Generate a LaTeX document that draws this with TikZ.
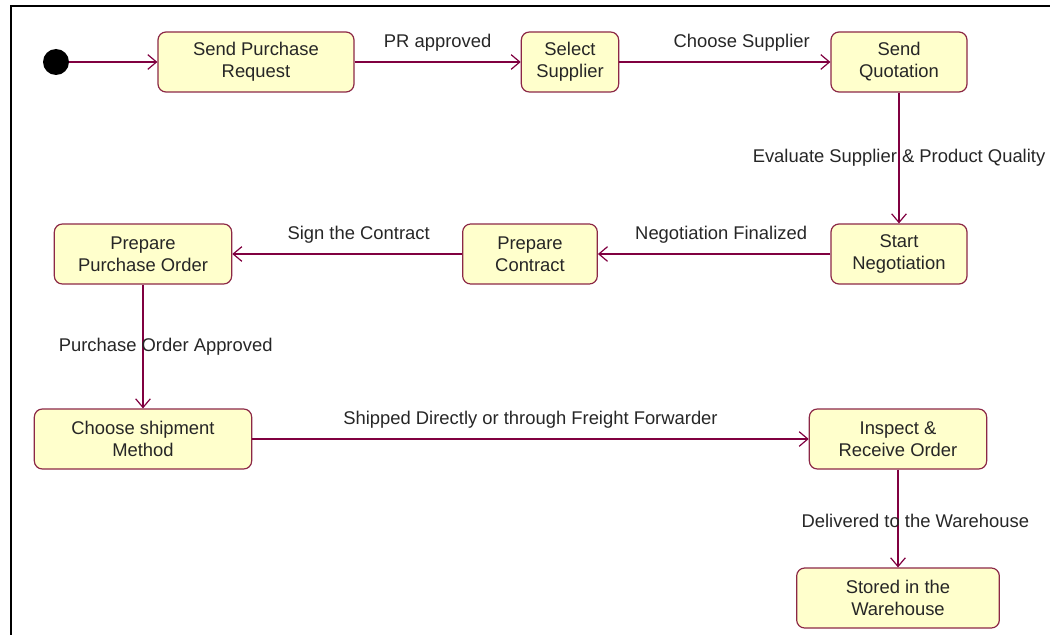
\documentclass[tikz,border=0pt]{standalone}
\usepackage{fontspec}
\setmainfont{Liberation Sans}
\definecolor{flowline}{RGB}{128, 0, 64}
\definecolor{statefill}{RGB}{255, 255, 204}
\definecolor{stateedge}{RGB}{140, 40, 70}
\usetikzlibrary{arrows.meta}

\begin{document}
\begin{tikzpicture}[x=0.75pt, y=-0.75pt,
  state/.style={draw=stateedge, fill=statefill, rounded corners=6pt, align=center, line width=0.9pt,
    minimum height=45pt, inner sep=2pt, font=\fontsize{13.8}{16.5}\selectfont, text=black!85},
  trans/.style={draw=flowline, line width=0.9pt, -{Straight Barb[length=6.5pt, width=11pt]}},
  lbl/.style={font=\fontsize{13.8}{16}\selectfont, text=black!85}]
  \useasboundingbox (0,0) rectangle (1050,635);
  \draw[line width=1.5pt] (11,635) |- (1050,6.5);

  % states
  \node[circle, fill=black, minimum size=19.5pt, inner sep=0pt] (init) at (56,62) {};
  \node[state, minimum width=147pt] (spr) at (256,62) {Send Purchase\\Request};
  \node[state, minimum width=73pt] (ss) at (570,62) {Select\\Supplier};
  \node[state, minimum width=102pt] (sq) at (899,62) {Send\\Quotation};
  \node[state, minimum width=102pt] (sn) at (899,254) {Start\\Negotiation};
  \node[state, minimum width=101pt] (pc) at (530,254) {Prepare\\Contract};
  \node[state, minimum width=133pt] (ppo) at (143,254) {Prepare\\Purchase Order};
  \node[state, minimum width=163pt] (csm) at (143,439) {Choose shipment\\Method};
  \node[state, minimum width=133pt] (iro) at (898,439) {Inspect \&\\Receive Order};
  \node[state, minimum width=152pt] (siw) at (898,598) {Stored in the\\Warehouse};

  % transitions
  \draw[trans] (init) -- (spr);
  \draw[trans] (spr) -- node[lbl, above=4pt] {PR approved} (ss);
  \draw[trans] (ss) -- node[lbl, above=4pt, pos=0.58] {Choose Supplier} (sq);
  \draw[trans] (sq) -- node[lbl] {Evaluate Supplier \& Product Quality} (sn);
  \draw[trans] (sn) -- node[lbl, above=4pt, pos=0.47] {Negotiation Finalized} (pc);
  \draw[trans] (pc) -- node[lbl, above=4pt, pos=0.45] {Sign the Contract} (ppo);
  \draw[trans] (ppo) -- node[lbl, xshift=17pt] {Purchase Order Approved} (csm);
  \draw[trans] (csm) -- node[lbl, above=4pt] {Shipped Directly or through Freight Forwarder} (iro);
  \draw[trans] (iro) -- node[lbl, xshift=13pt, yshift=-2pt] {Delivered to the Warehouse} (siw);
\end{tikzpicture}
\end{document}
